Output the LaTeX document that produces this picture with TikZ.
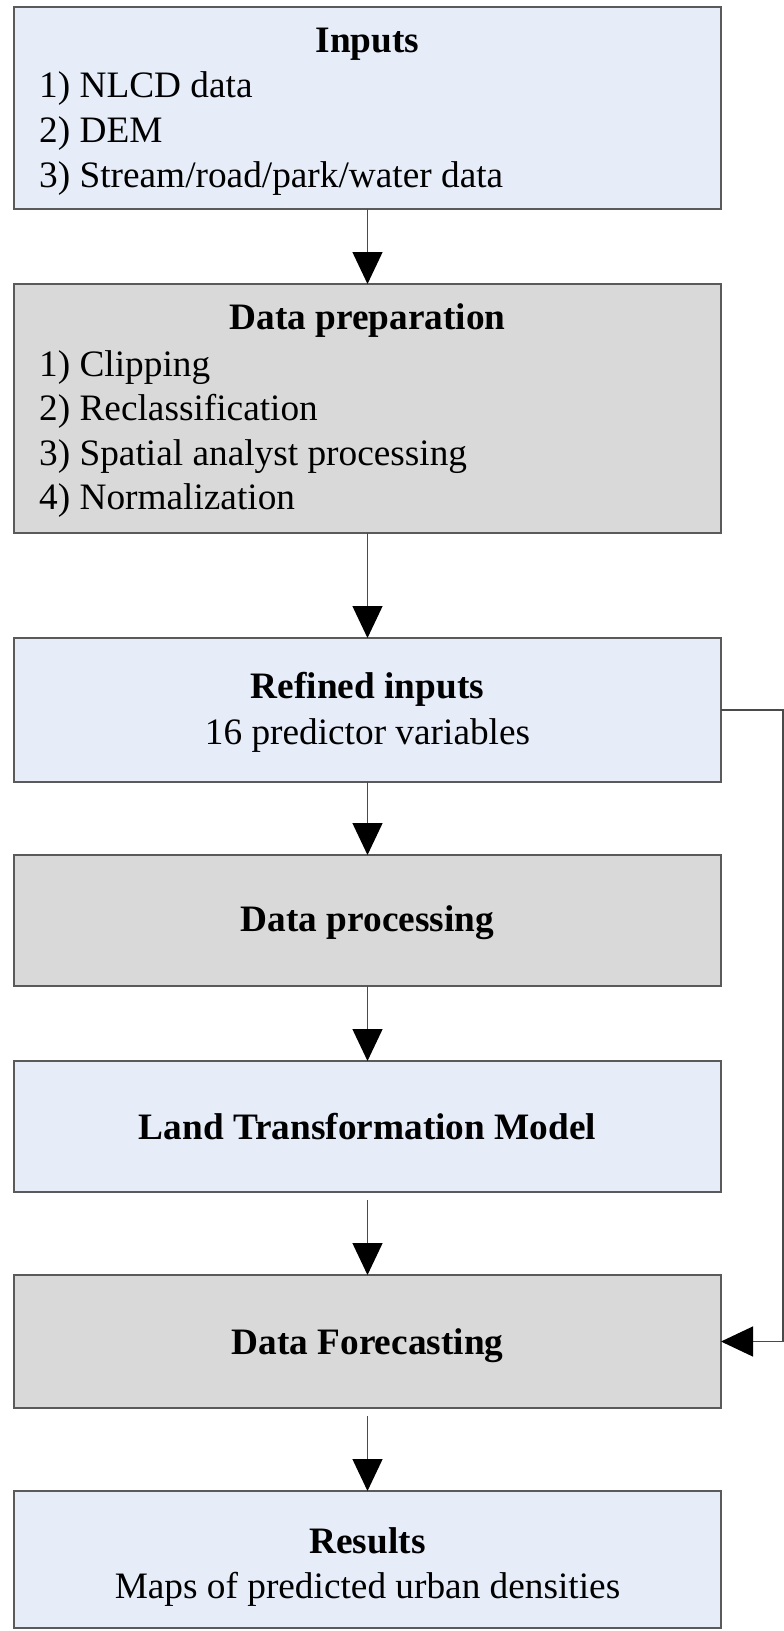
\documentclass[tikz,border=0pt]{standalone}
\usepackage{fontspec}
\setmainfont{Liberation Serif}
\usetikzlibrary{arrows.meta}
\definecolor{boxblue}{HTML}{E6EDF8}
\definecolor{boxgray}{HTML}{D9D9D9}
\definecolor{edge}{HTML}{5A5A5A}
\definecolor{wire}{HTML}{4A4A4A}

\begin{document}
\begin{tikzpicture}[x=1pt,y=-1pt,
  stage/.style={draw=edge, line width=2.4pt, minimum width=707pt, inner sep=0pt, outer sep=0pt},
  bluebox/.style={stage, fill=boxblue},
  graybox/.style={stage, fill=boxgray},
  txt/.style={inner sep=0pt, anchor=base, font=\fontsize{37.3}{45}\selectfont},
  head/.style={txt, font=\fontsize{37.3}{45}\selectfont\bfseries},
  item/.style={txt, anchor=base west},
  flow/.style={draw=wire, line width=1.4pt, -{Triangle[width=30pt,length=32pt,color=black]}},
]
\useasboundingbox (0,0) rectangle (784,1631);
\fill[white] (0,0) rectangle (784,1631);

% stage boxes
\node[bluebox, minimum height=202pt] (inputs)   at (367.5,108)    {};
\node[graybox, minimum height=249pt] (prep)     at (367.5,408.5)  {};
\node[bluebox, minimum height=144pt] (refined)  at (367.5,710)    {};
\node[graybox, minimum height=131pt] (process)  at (367.5,920.5)  {};
\node[bluebox, minimum height=131pt] (ltm)      at (367.5,1126.5) {};
\node[graybox, minimum height=133pt] (forecast) at (367.5,1341.5) {};
\node[bluebox, minimum height=137pt] (results)  at (367.5,1559.5) {};

% box texts
\node[head] (inputsT) at (367.5,52) {Inputs};
\node[item] (in1) at (39,97)  {1) NLCD data};
\node[item] (in2) at (39,142) {2) DEM};
\node[item] (in3) at (39,187) {3) Stream/road/park/water data};

\node[head] (prepT) at (367.5,329) {Data preparation};
\node[item] (pr1) at (39,376) {1) Clipping};
\node[item] (pr2) at (39,420) {2) Reclassification};
\node[item] (pr3) at (39,465) {3) Spatial analyst processing};
\node[item] (pr4) at (39,509) {4) Normalization};

\node[head] (refinedT) at (367.5,698) {Refined inputs};
\node[txt]  (refinedS) at (367.5,744) {16 predictor variables};

\node[head] (processT)  at (367.5,931)  {Data processing};
\node[head] (ltmT)      at (367.5,1139) {Land Transformation Model};
\node[head] (forecastT) at (367.5,1354) {Data Forecasting};

\node[head] (resultsT) at (367.5,1553) {Results};
\node[txt]  (resultsS) at (367.5,1598) {Maps of predicted urban densities};

% connectors
\draw[flow] (inputs) -- (prep);
\draw[flow] (prep) -- (refined);
\draw[flow] (refined) -- (process);
\draw[flow] (process) -- (ltm);
\draw[flow, shorten <=8pt] (ltm) -- (forecast);
\draw[flow, shorten <=8pt] (forecast) -- (results);

% feedback rail from the refined inputs to the forecasting step
\coordinate (rail) at (783,0);
\draw[flow, line width=1.2pt] (refined.east) -| (rail |- forecast.east) -- (forecast.east);
\end{tikzpicture}
\end{document}
